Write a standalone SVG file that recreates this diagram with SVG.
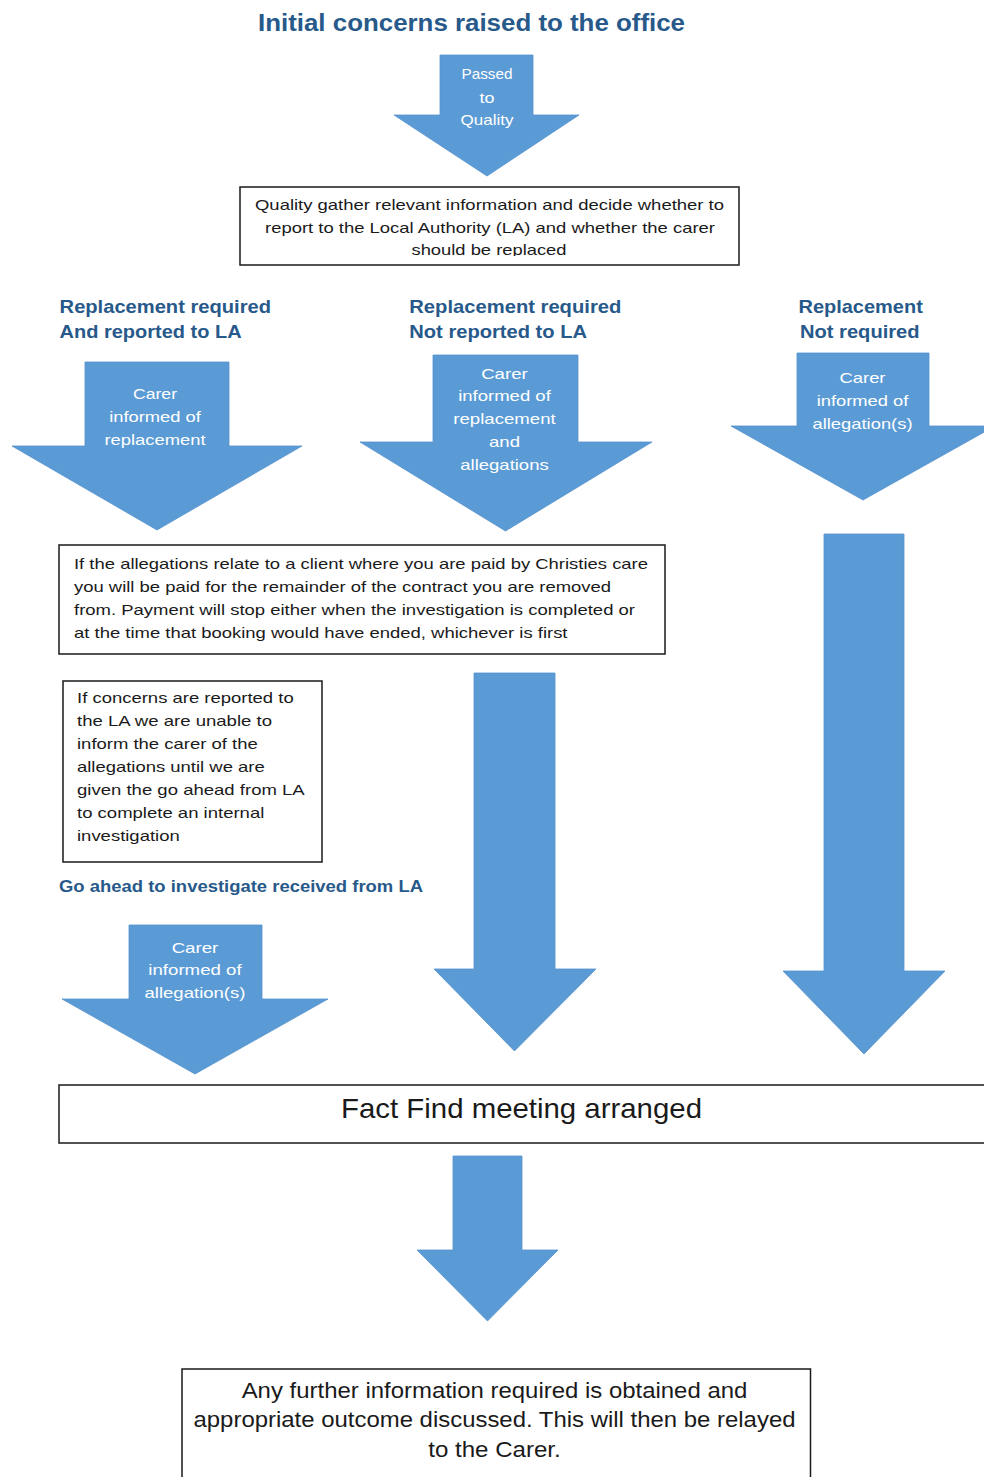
<svg xmlns="http://www.w3.org/2000/svg" width="984" height="1477" viewBox="0 0 984 1477">
<style>
  .arrow { fill:#5B9BD5; stroke:#5592CC; stroke-width:0.8; }
  .box { fill:#FFFFFF; stroke:#1A1A1A; stroke-width:1.5; }
  .hd { font-family:"Liberation Sans", Arial, sans-serif; font-weight:bold; fill:#27598A; }
  .at { font-family:"Liberation Sans", Arial, sans-serif; font-size:15px; fill:#FFFFFF; text-anchor:middle; }
  .bt { font-family:"Liberation Sans", Arial, sans-serif; font-size:15px; fill:#1A1A1A; }
  .btc { font-family:"Liberation Sans", Arial, sans-serif; fill:#1A1A1A; text-anchor:middle; }
</style>
<defs>
  <clipPath id="clipB1"><rect x="240" y="187" width="499" height="69"/></clipPath>
</defs>
<rect width="984" height="1477" fill="#FFFFFF"/>

<g id="title">
  <text class="hd" x="258" y="31" font-size="23" textLength="427" lengthAdjust="spacingAndGlyphs">Initial concerns raised to the office</text>
</g>

<g id="connectors">
  <g id="arrow-passed">
    <path class="arrow" d="M440,55 H533 V115 H579 L487,176 L394,115 H440 Z"/>
    <text class="at" x="487" y="79" textLength="51" lengthAdjust="spacingAndGlyphs">Passed</text>
    <text class="at" x="487" y="103" textLength="15" lengthAdjust="spacingAndGlyphs">to</text>
    <text class="at" x="487" y="125" textLength="53" lengthAdjust="spacingAndGlyphs">Quality</text>
  </g>
  <g id="arrow-left">
    <path class="arrow" d="M85,362 H229 V446 H302 L157,530 L12,446 H85 Z"/>
    <text class="at" x="155" y="399" textLength="44" lengthAdjust="spacingAndGlyphs">Carer</text>
    <text class="at" x="155" y="421.5" textLength="91.7" lengthAdjust="spacingAndGlyphs">informed of</text>
    <text class="at" x="155" y="444.5" textLength="101" lengthAdjust="spacingAndGlyphs">replacement</text>
  </g>
  <g id="arrow-middle">
    <path class="arrow" d="M433,355 H578 V442 H652 L505.5,531 L360,442 H433 Z"/>
    <text class="at" x="504.5" y="378.5" textLength="46.7" lengthAdjust="spacingAndGlyphs">Carer</text>
    <text class="at" x="504.5" y="401" textLength="92.7" lengthAdjust="spacingAndGlyphs">informed of</text>
    <text class="at" x="504.5" y="423.5" textLength="102.3" lengthAdjust="spacingAndGlyphs">replacement</text>
    <text class="at" x="504.5" y="446.5" textLength="31" lengthAdjust="spacingAndGlyphs">and</text>
    <text class="at" x="504.5" y="469.5" textLength="88.3" lengthAdjust="spacingAndGlyphs">allegations</text>
  </g>
  <g id="arrow-right">
    <path class="arrow" d="M797,353 H929 V426 H995 L863,500 L731,426 H797 Z"/>
    <text class="at" x="862.5" y="383" textLength="46" lengthAdjust="spacingAndGlyphs">Carer</text>
    <text class="at" x="862.5" y="406" textLength="91.7" lengthAdjust="spacingAndGlyphs">informed of</text>
    <text class="at" x="862.5" y="429" textLength="100" lengthAdjust="spacingAndGlyphs">allegation(s)</text>
  </g>
  <g id="arrow-long-middle">
    <path class="arrow" d="M474,673 H555 V969 H596 L514.5,1051 L434,969 H474 Z"/>
  </g>
  <g id="arrow-long-right">
    <path class="arrow" d="M824,534 H904 V971 H945 L864,1054 L783,971 H824 Z"/>
  </g>
  <g id="arrow-go-ahead">
    <path class="arrow" d="M129,925 H262 V999 H328 L195,1074 L62,999 H129 Z"/>
    <text class="at" x="195" y="953" textLength="46.7" lengthAdjust="spacingAndGlyphs">Carer</text>
    <text class="at" x="195" y="975" textLength="93.3" lengthAdjust="spacingAndGlyphs">informed of</text>
    <text class="at" x="195" y="998" textLength="101" lengthAdjust="spacingAndGlyphs">allegation(s)</text>
  </g>
  <g id="arrow-bottom">
    <path class="arrow" d="M453,1156 H522 V1250 H558 L487.5,1321 L417,1250 H453 Z"/>
  </g>
</g>

<g id="node-quality">
  <rect class="box" x="240" y="187" width="499" height="78"/>
  <g clip-path="url(#clipB1)">
    <text class="btc" font-size="15" x="489.5" y="210" textLength="469" lengthAdjust="spacingAndGlyphs">Quality gather relevant information and decide whether to</text>
    <text class="btc" font-size="15" x="490" y="233" textLength="450" lengthAdjust="spacingAndGlyphs">report to the Local Authority (LA) and whether the carer</text>
    <text class="btc" font-size="15" x="489" y="255" textLength="155" lengthAdjust="spacingAndGlyphs">should be replaced</text>
  </g>
</g>

<g id="header-left">
  <text class="hd" font-size="19" x="59.6" y="312.5" textLength="211.4" lengthAdjust="spacingAndGlyphs">Replacement required</text>
  <text class="hd" font-size="19" x="59.6" y="337.5" textLength="182" lengthAdjust="spacingAndGlyphs">And reported to LA</text>
</g>
<g id="header-middle">
  <text class="hd" font-size="19" x="409.3" y="312.5" textLength="212" lengthAdjust="spacingAndGlyphs">Replacement required</text>
  <text class="hd" font-size="19" x="409.3" y="337.5" textLength="177.7" lengthAdjust="spacingAndGlyphs">Not reported to LA</text>
</g>
<g id="header-right">
  <text class="hd" font-size="19" x="798.5" y="312.5" textLength="124.3" lengthAdjust="spacingAndGlyphs">Replacement</text>
  <text class="hd" font-size="19" x="800" y="337.5" textLength="119.6" lengthAdjust="spacingAndGlyphs">Not required</text>
</g>

<g id="node-payment">
  <rect class="box" x="59" y="545" width="606" height="109"/>
  <text class="bt" x="74" y="569" textLength="574" lengthAdjust="spacingAndGlyphs">If the allegations relate to a client where you are paid by Christies care</text>
  <text class="bt" x="74" y="592" textLength="537" lengthAdjust="spacingAndGlyphs">you will be paid for the remainder of the contract you are removed</text>
  <text class="bt" x="74" y="615" textLength="561" lengthAdjust="spacingAndGlyphs">from. Payment will stop either when the investigation is completed or</text>
  <text class="bt" x="74" y="638" textLength="493.5" lengthAdjust="spacingAndGlyphs">at the time that booking would have ended, whichever is first</text>
</g>

<g id="node-la-note">
  <rect class="box" x="63" y="681" width="259" height="181"/>
  <text class="bt" x="77" y="703" textLength="216.7" lengthAdjust="spacingAndGlyphs">If concerns are reported to</text>
  <text class="bt" x="77" y="726" textLength="195" lengthAdjust="spacingAndGlyphs">the LA we are unable to</text>
  <text class="bt" x="77" y="749" textLength="180.7" lengthAdjust="spacingAndGlyphs">inform the carer of the</text>
  <text class="bt" x="77" y="772" textLength="187.7" lengthAdjust="spacingAndGlyphs">allegations until we are</text>
  <text class="bt" x="77" y="795" textLength="227.7" lengthAdjust="spacingAndGlyphs">given the go ahead from LA</text>
  <text class="bt" x="77" y="818" textLength="187.3" lengthAdjust="spacingAndGlyphs">to complete an internal</text>
  <text class="bt" x="77" y="841" textLength="102.7" lengthAdjust="spacingAndGlyphs">investigation</text>
</g>

<g id="label-go-ahead">
  <text class="hd" font-size="17" x="59" y="892" textLength="364" lengthAdjust="spacingAndGlyphs">Go ahead to investigate received from LA</text>
</g>

<g id="node-fact-find">
  <rect class="box" x="59" y="1085" width="940" height="58"/>
  <text class="btc" font-size="28" x="521.5" y="1118" textLength="361" lengthAdjust="spacingAndGlyphs">Fact Find meeting arranged</text>
</g>

<g id="node-outcome">
  <rect class="box" x="182" y="1369" width="628.5" height="130"/>
  <text class="btc" font-size="22" x="494.5" y="1398" textLength="505.7" lengthAdjust="spacingAndGlyphs">Any further information required is obtained and</text>
  <text class="btc" font-size="22" x="494.5" y="1427" textLength="602" lengthAdjust="spacingAndGlyphs">appropriate outcome discussed. This will then be relayed</text>
  <text class="btc" font-size="22" x="494.5" y="1457" textLength="132.5" lengthAdjust="spacingAndGlyphs">to the Carer.</text>
</g>
</svg>
